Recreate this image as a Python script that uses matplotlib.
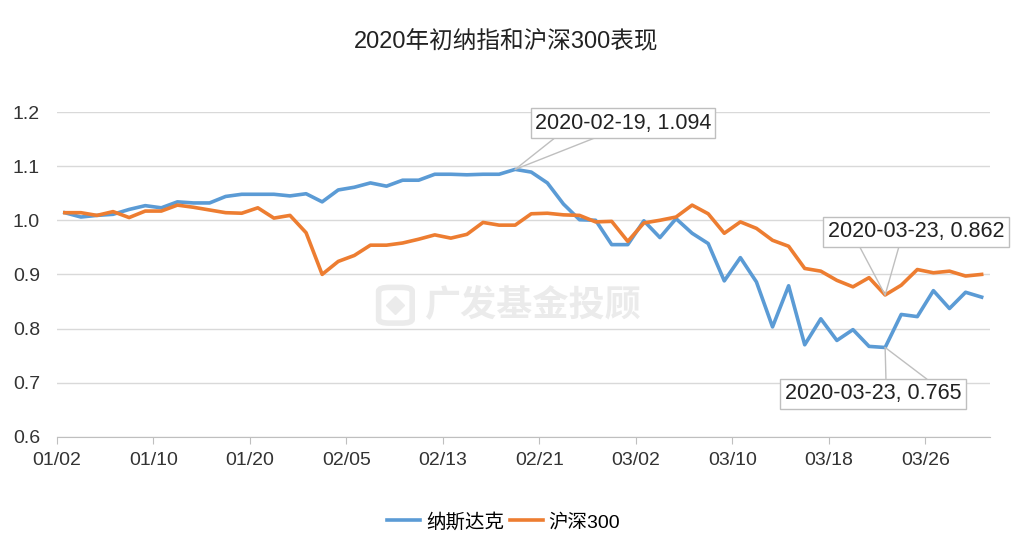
import matplotlib
matplotlib.use("Agg")
import matplotlib.pyplot as plt
import numpy as np
from matplotlib.ticker import FormatStrFormatter
from matplotlib.patches import FancyBboxPatch

plt.rcParams['font.family'] = ['Liberation Sans', 'Noto Sans CJK SC', 'DejaVu Sans']

# A-share trading days, 2020-01-02 .. 2020-03-31
dates = ['2020-01-02', '2020-01-03', '2020-01-06', '2020-01-07', '2020-01-08', '2020-01-09',
         '2020-01-10', '2020-01-13', '2020-01-14', '2020-01-15', '2020-01-16', '2020-01-17',
         '2020-01-20', '2020-01-21', '2020-01-22', '2020-01-23',
         '2020-02-03', '2020-02-04', '2020-02-05', '2020-02-06', '2020-02-07', '2020-02-10',
         '2020-02-11', '2020-02-12', '2020-02-13', '2020-02-14', '2020-02-17', '2020-02-18',
         '2020-02-19', '2020-02-20', '2020-02-21', '2020-02-24', '2020-02-25', '2020-02-26',
         '2020-02-27', '2020-02-28',
         '2020-03-02', '2020-03-03', '2020-03-04', '2020-03-05', '2020-03-06', '2020-03-09',
         '2020-03-10', '2020-03-11', '2020-03-12', '2020-03-13', '2020-03-16', '2020-03-17',
         '2020-03-18', '2020-03-19', '2020-03-20', '2020-03-23', '2020-03-24', '2020-03-25',
         '2020-03-26', '2020-03-27', '2020-03-30', '2020-03-31']

nasdaq = [1.014, 1.006, 1.009, 1.011, 1.020, 1.027, 1.023, 1.034, 1.032, 1.032,
          1.044, 1.048, 1.048, 1.048, 1.045, 1.049, 1.034, 1.056, 1.061, 1.069,
          1.063, 1.074, 1.074, 1.085, 1.085, 1.084, 1.085, 1.085, 1.094, 1.089,
          1.069, 1.030, 1.001, 1.000, 0.955, 0.955, 0.999, 0.968, 1.003, 0.976,
          0.957, 0.888, 0.931, 0.886, 0.803, 0.879, 0.770, 0.818, 0.778, 0.798,
          0.767, 0.765, 0.826, 0.822, 0.870, 0.837, 0.867, 0.858]

hs300 = [1.014, 1.014, 1.009, 1.016, 1.005, 1.017, 1.017, 1.028, 1.024, 1.019,
         1.014, 1.013, 1.023, 1.004, 1.009, 0.977, 0.900, 0.924, 0.935, 0.954,
         0.954, 0.958, 0.965, 0.973, 0.967, 0.974, 0.996, 0.991, 0.991, 1.012,
         1.013, 1.010, 1.009, 0.997, 0.998, 0.961, 0.995, 1.000, 1.006, 1.028,
         1.012, 0.976, 0.997, 0.985, 0.963, 0.952, 0.911, 0.906, 0.889, 0.877,
         0.894, 0.862, 0.880, 0.909, 0.903, 0.906, 0.897, 0.900]

names = ['纳斯达克', '沪深300']
colors = ['#5B9BD5', '#ED7D31']
title = '2020年初纳指和沪深300表现'

x = np.arange(len(dates))

fig = plt.figure(figsize=(10.32, 5.6), dpi=100)
ax = fig.add_axes([0.055, 0.22, 0.904, 0.58])

ax.plot(x, nasdaq, color=colors[0], lw=2.6, label=names[0], solid_joinstyle='round', zorder=3)
ax.plot(x, hs300, color=colors[1], lw=2.6, label=names[1], solid_joinstyle='round', zorder=3)

ax.set_xlim(-0.5, len(dates) - 0.5)
ax.set_ylim(0.6, 1.2)
ax.set_yticks(np.round(np.arange(0.6, 1.25, 0.1), 1))
ax.yaxis.set_major_formatter(FormatStrFormatter('%.1f'))
ax.grid(axis='y', color='#D9D9D9', lw=1)
ax.set_axisbelow(True)
for s in ['top', 'right', 'left']:
    ax.spines[s].set_visible(False)
ax.spines['bottom'].set_color('#BFBFBF')

tick_idx = np.arange(0, len(dates), 6)
ax.set_xticks(tick_idx - 0.5)
ax.set_xticklabels([dates[i][5:].replace('-', '/') for i in tick_idx])
ax.tick_params(axis='x', length=5, color='#BFBFBF', labelsize=14, pad=6, labelcolor='#333333')
ax.tick_params(axis='y', length=0, labelsize=14, pad=12, labelcolor='#333333')

# watermark
ax.text(0.51, 0.405, '广发基金投顾', transform=ax.transAxes, fontsize=26, fontweight='bold',
        color='#EBEBEB', ha='center', va='center', family=['Noto Sans CJK SC'], zorder=1)
ax.add_patch(FancyBboxPatch((0.345, 0.35), 0.036, 0.11, boxstyle='round,pad=0,rounding_size=0.012',
                            transform=ax.transAxes, fc='none', ec='#EBEBEB', lw=4, zorder=1))
ax.plot([0.363], [0.405], marker='D', ms=9, color='#EBEBEB', transform=ax.transAxes, zorder=1)

# callouts: two leader lines from the box edge to the point
callouts = [(nasdaq, 28, (623, 437), [(0.145, 0), (0.404, 0)]),
            (hs300, 51, (916, 328), [(0.168, 0), (0.41, 0)]),
            (nasdaq, 51, (873, 166), [(0.574, 1), (0.838, 1)])]
for series, i, pos, rels in callouts:
    label = f'{dates[i]}, {series[i]:.3f}'
    for k, rel in enumerate(rels):
        visible = k == 0
        ax.annotate(label, xy=(i, series[i]), xytext=pos,
                    textcoords='figure pixels', ha='center', va='center', fontsize=15.5,
                    color='#222222' if visible else 'none',
                    bbox=dict(boxstyle='square,pad=0.2', fc='white' if visible else 'none',
                              ec='#BFBFBF' if visible else 'none', lw=1),
                    arrowprops=dict(arrowstyle='-', color='#BFBFBF', lw=1, relpos=rel,
                                    shrinkA=0, shrinkB=0),
                    zorder=5 if visible else 4)

fig.text(0.49, 0.925, title, ha='center', va='center', fontsize=17, color='#222222')
fig.legend(loc='center', bbox_to_anchor=(0.488, 0.068), ncol=2, frameon=False, fontsize=14,
           handlelength=1.7, handletextpad=0.3, columnspacing=0.3)

fig.savefig('out.png', dpi=100)
